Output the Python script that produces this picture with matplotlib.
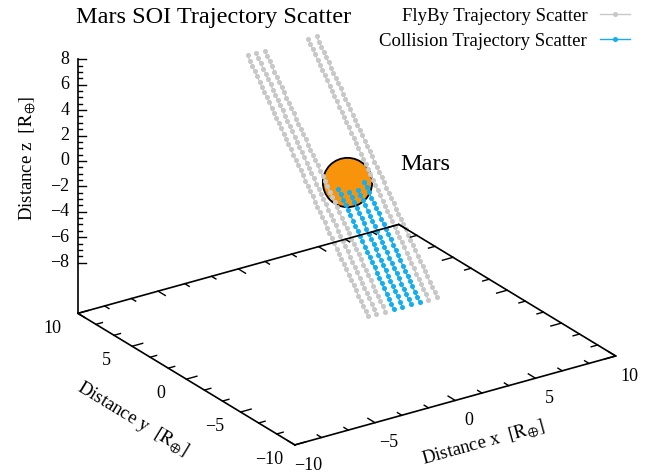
import numpy as np
import matplotlib
matplotlib.use("Agg")
import matplotlib.pyplot as plt
from matplotlib.transforms import IdentityTransform
from mpl_toolkits.mplot3d import proj3d

plt.rcParams['font.family'] = ['Liberation Serif', 'DejaVu Serif']
plt.rcParams['mathtext.fontset'] = 'stix'

# ---- trajectory data (constant-velocity straight lines, one point per time step) ----
flyby_x0 = [-2.25, -1.72, -1.18, 1.51, 2.05]
flyby_npts = [51, 51, 51, 51, 51]
collision_x0 = [-0.64, -0.10, 0.43, 0.97]
collision_npts = [24, 23, 23, 24]
start_y0 = -5.28
start_z0 = -7.04
step_v = (0.0, 0.222, 0.296)

mars_center = (0.0, 0.0, 0.0)

xtick_vals = [-10, -5, 0, 5, 10]
ytick_vals = [-10, -5, 0, 5, 10]
ztick_vals = [-8, -6, -4, -2, 0, 2, 4, 6, 8]
xy_range = (-10, 10)
z_range = (-8, 8)
xyplane_z = -12

gray = '#c8c8c8'
blue = '#14aef0'
orange = '#f7940c'

W, H = 648, 475
fig = plt.figure(figsize=(W / 100, H / 100), dpi=100)
ax = fig.add_axes([0, 0, 1, 1], projection='3d', proj_type='ortho',
                  computed_zorder=False)
ax.set_axis_off()
azim = -124.06
ax.view_init(elev=24.2, azim=azim)
ax.set_box_aspect((1, 1, 0.719))
ax.set_xlim(*xy_range)
ax.set_ylim(*xy_range)
ax.set_zlim(xyplane_z, z_range[1])


def trajectory(x0, n):
    k = np.arange(n)
    return (x0 + k * step_v[0], start_y0 + k * step_v[1], start_z0 + k * step_v[2])


# Mars
ax.scatter([mars_center[0]], [mars_center[1]], [mars_center[2]], s=1260,
           c=orange, edgecolors='black', linewidths=1.3, depthshade=False,
           zorder=2)

fly_handle = None
for x0, n in zip(flyby_x0, flyby_npts):
    xs, ys, zs = trajectory(x0, n)
    h, = ax.plot(xs, ys, zs, color=gray, lw=1.0, marker='o', ms=2.6,
                 zorder=3)
    fly_handle = fly_handle or h
col_handle = None
for x0, n in zip(collision_x0, collision_npts):
    xs, ys, zs = trajectory(x0, n)
    h, = ax.plot(xs, ys, zs, color=blue, lw=1.0, marker='o', ms=2.6,
                 zorder=4)
    col_handle = col_handle or h

# base of the box
lo, hi = xy_range
zb = xyplane_z
ax.plot([lo, hi, hi, lo, lo], [lo, lo, hi, hi, lo], [zb] * 5, color='black',
        lw=1.2, zorder=6)
# vertical z axis at the left corner
ax.plot([lo, lo], [hi, hi], [zb, z_range[1]], color='black', lw=1.2, zorder=6)

# ticks on the base edges: major every 5, two minor ticks between
tk_major, tk_minor = 0.66, 0.40
for k in range(13):
    v = lo + k * 5 / 3
    L = tk_major if k % 3 == 0 else tk_minor
    ax.plot([v, v], [lo, lo + L], [zb, zb], color='black', lw=1.0, zorder=6)
    ax.plot([v, v], [hi, hi - L], [zb, zb], color='black', lw=1.0, zorder=6)
    ax.plot([lo, lo + L], [v, v], [zb, zb], color='black', lw=1.0, zorder=6)
    ax.plot([hi, hi - L], [v, v], [zb, zb], color='black', lw=1.0, zorder=6)

# z ticks point right on screen
ux, uy = -np.sin(np.radians(azim)), np.cos(np.radians(azim))
zt = np.arange(z_range[0], z_range[1] + 0.01, 0.5)
for v in zt:
    L = 0.42 if abs(v % 2) < 1e-9 else 0.21
    ax.plot([lo, lo + L * ux], [hi, hi + L * uy], [v, v], color='black',
            lw=1.0, zorder=6)

# texts anchored at 3d positions, placed once the panel is laid out
texts3d = []


def text3d(pos, s, direction=None, **kw):
    texts3d.append((pos, s, direction, kw))


def minus(v):
    return f'{v}'.replace('-', '\u2212')


fs_tick = 13
for v in xtick_vals:
    text3d((v, lo - 1.25, zb - 0.95), minus(v), ha='center', va='center',
           fontsize=fs_tick)
for v in ytick_vals:
    text3d((lo - 1.6, v, zb - 0.6), minus(v), ha='center', va='center',
           fontsize=fs_tick)
for v in ztick_vals:
    text3d((lo - 0.45 * ux, hi - 0.45 * uy, v), minus(v), ha='right',
           va='center', fontsize=fs_tick)

unit = r'$\left[\mathrm{R}_{\oplus}\right]$'
text3d((-0.4, lo - 3.2, zb - 1.6), 'Distance x  ' + unit, direction=(1, 0, 0),
       ha='center', va='center', fontsize=13.5)
text3d((lo - 3.2, 0.2, zb - 2.1), 'Distance y  ' + unit, direction=(0, -1, 0),
       ha='center', va='center', fontsize=13.5)
fig.text(28 / W, 1 - 158 / H, 'Distance z  ' + unit, rotation=90,
         ha='center', va='center', fontsize=13.5)

fig.text(214 / W, 1 - 18 / H, 'Mars SOI Trajectory Scatter', ha='center',
         va='center', fontsize=17.5)
fig.text(400 / W, 1 - 165 / H, 'Mars', ha='left', va='center', fontsize=17.5)

fig.legend([fly_handle, col_handle],
           ['FlyBy Trajectory Scatter', 'Collision Trajectory Scatter'],
           loc='upper right', bbox_to_anchor=(634 / W, 1 - 4 / H),
           frameon=False, markerfirst=False, fontsize=13.5, handlelength=1.6,
           handletextpad=0.7, labelspacing=0.4, borderpad=0.2,
           borderaxespad=0.0)


def to_display(p):
    xs, ys, _ = proj3d.proj_transform(p[0], p[1], p[2], ax.get_proj())
    return ax.transData.transform((xs, ys))


# place the square 3d panel so that the box corners land where wanted
ref_pts = [(lo, hi, zb), (lo, lo, zb), (hi, lo, zb), (hi, hi, zb),
           (lo, hi, z_range[1])]
ref_px = [(78, 313), (295, 445), (616, 356), (398, 225), (78, 59)]
for _ in range(3):
    fig.canvas.draw()
    bb = ax.get_position().transformed(fig.transFigure)
    S, cx, cy = bb.width, (bb.x0 + bb.x1) / 2, (bb.y0 + bb.y1) / 2
    rows, rhs = [], []
    for p, (tx, ty) in zip(ref_pts, ref_px):
        dx, dy = to_display(p)
        qx, qy = (dx - cx) / S, (dy - cy) / S
        rows.append([qx, 1, 0]); rhs.append(tx)
        rows.append([qy, 0, 1]); rhs.append(H - ty)
    S2, cx2, cy2 = np.linalg.lstsq(np.array(rows), np.array(rhs), rcond=None)[0]
    ax.set_position([(cx2 - S2 / 2) / W, (cy2 - S2 / 2) / H, S2 / W, S2 / H])

fig.canvas.draw()
for pos, s, direction, kw in texts3d:
    px, py = to_display(pos)
    rot = 0
    if direction is not None:
        end = np.add(pos, direction)
        ex, ey = to_display(end)
        rot = np.degrees(np.arctan2(ey - py, ex - px))
        if rot > 90:
            rot -= 180
        elif rot < -90:
            rot += 180
    fig.text(px, py, s, transform=IdentityTransform(), rotation=rot,
             rotation_mode='anchor', **kw)

fig.savefig('out.png', dpi=100)
